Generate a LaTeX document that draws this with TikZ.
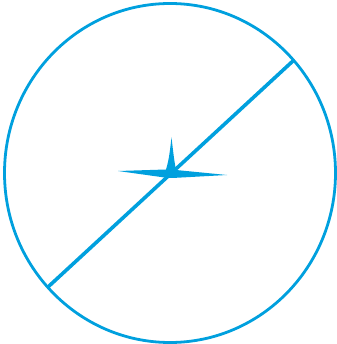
\documentclass[tikz,border=0pt]{standalone}
\definecolor{cy}{RGB}{0,160,222}
\begin{document}
\begin{tikzpicture}[x=1pt,y=-1pt]
\useasboundingbox (0,0) rectangle (336,344);
\coordinate (c) at (170,173);
\draw[cy,line width=2.8] (c) ellipse [x radius=165.5, y radius=169.5];
\coordinate (p1) at (294,60);
\coordinate (p2) at (48,287);
\draw[cy,line width=3.6] (p1) -- (p2);
\fill[cy] (118,171) -- (166,169.5) .. controls (169,160) and (170,150) .. (171.5,137.5)
  .. controls (173,150) and (174,160) .. (176,170) -- (227,175)
  -- (176,177.8) -- (168,178) -- cycle;
\end{tikzpicture}
\end{document}
